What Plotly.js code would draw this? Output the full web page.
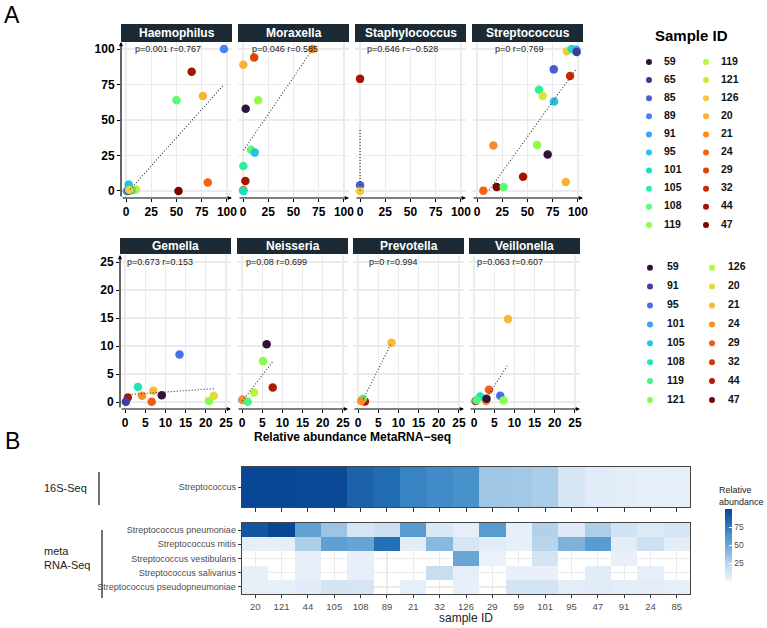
<!DOCTYPE html>
<html><head><meta charset="utf-8">
<script src="https://cdn.plot.ly/plotly-3.0.1.min.js"></script>
<style>html,body{margin:0;padding:0;background:#fff}#chart{width:767px;height:628px}</style>
</head><body><div id="chart"></div>
<script>
// ---------------- DATA ----------------
const legend1IDs = ['59','65','85','89','91','95','101','105','108','119','119','121','126','20','21','24','29','32','44','47'];
const legend2IDs = ['59','91','95','101','105','108','119','121','126','20','21','24','29','32','44','47'];

const topGenera = ['Haemophilus','Moraxella','Staphylococcus','Streptococcus'];
const botGenera = ['Gemella','Neisseria','Prevotella','Veillonella'];
const topStats = ['p=0.001 r=0.767','p=0.046 r=0.585','p=0.646 r=\u22120.528','p=0 r=0.769'];
const botStats = ['p=0.673 r=0.153','p=0.08 r=0.699','p=0 r=0.994','p=0.063 r=0.607'];

const haemophilusX = [97, 65, 50, 76, 81, 52, 2.6, 0.7, 9.9, 6, 2.6, 3];
const haemophilusY = [100, 84, 64, 67, 6, 0, 4.5, 0, 1, 0.5, 0.3, 0.6];
const haemophilusID = ['89','44','108','20','24','47','95','91','121','105','59','126'];
const haemophilusFitX = [4, 97];
const haemophilusFitY = [1, 75];

const moraxellaX = [69, 0.3, 11, 15, 2.6, 7.9, 11.6, 0.3, 2.3, 0.3, 0.3];
const moraxellaY = [100, 89, 94, 64, 58, 29, 27, 17.5, 7, 0.6, 0];
const moraxellaID = ['21','20','29','119','59','108','95','105','44','24','101'];
const moraxellaFitX = [0.5, 69];
const moraxellaFitY = [28.6, 100];

const staphylococcusX = [0, 0, 0];
const staphylococcusY = [79, 4, 0];
const staphylococcusID = ['44','85','126'];
const staphylococcusFitX = [0, 0];
const staphylococcusFitY = [0, 43];

const streptococcusX = [88.9, 93.8, 98.4, 98.7, 76, 92.2, 61.4, 65.1, 76.3, 16.2, 59.5, 70, 45.6, 87.9, 19.5, 26.4, 6.3];
const streptococcusY = [98.4, 100, 99.5, 98, 85.7, 81, 71.4, 67, 63, 32, 32.4, 25.6, 10, 6.3, 2.8, 2.8, 0.2];
const streptococcusID = ['126','101','91','65','85','32','105','121','95','21','119','59','44','20','47','108','24'];
const streptococcusFitX = [11.9, 98.7];
const streptococcusFitY = [0.5, 86.4];

const gemellaX = [13.5, 3.2, 7.0, 4.2, 9.1, 0.7, 0.2, 6.6, 20.8, 22.0];
const gemellaY = [8.5, 2.7, 2.0, 1.1, 1.2, 0.8, 0.05, 0.05, 0.2, 1.1];
const gemellaID = ['95','108','21','24','59','44','91','29','121','20'];
const gemellaFitX = [0.2, 22.3];
const gemellaFitY = [1.3, 2.4];

const neisseriaX = [6.1, 5.2, 7.6, 3.0, 0.1, 0.1, 1.4];
const neisseriaY = [10.3, 7.3, 2.6, 1.7, 0.4, 0.4, 0.05];
const neisseriaID = ['59','121','44','126','101','24','119'];
const neisseriaFitX = [0.1, 7.6];
const neisseriaFitY = [0.2, 7.2];

const prevotellaX = [8.3, 1.3, 1.7, 1.2, 0.8];
const prevotellaY = [10.6, 0.2, 0.1, 0.6, 0.2];
const prevotellaID = ['21','59','44','119','24'];
const prevotellaFitX = [1.3, 8.3];
const prevotellaFitY = [0.5, 10.6];

const veillonellaX = [8.4, 3.7, 1.5, 6.5, 7.3, 0.4, 0.6, 3.0, 3.1];
const veillonellaY = [14.8, 2.2, 1.0, 1.1, 0.25, 0.2, 0.3, 0.2, 0.6];
const veillonellaID = ['21','29','108','95','121','44','119','24','59'];
const veillonellaFitX = [2.5, 8.5];
const veillonellaFitY = [0, 6.8];

// heatmap data
const sampleOrder = ['20','121','44','105','108','89','21','32','126','29','59','101','95','47','91','24','85'];
const sixteenSLabel = ['Streptococcus'];
const sixteenS = [99, 99, 98, 98, 86, 82, 71, 67, 64, 33, 32, 30, 12, 7, 6, 5, 4];
const metaSpecies = ['Streptococcus pneumoniae','Streptococcus mitis','Streptococcus vestibularis','Streptococcus salivarius','Streptococcus pseudopneumoniae'];
const pneumoniae  = [92, 99, 54, 34, 13, 17, 57, 11, 5, 58, 4, 27, 9, 29, 15, 10, 13];
const mitis       = [5, 5, 29, 55, 52, 80, 6, 41, 12, 7, 4, 25, 44, 57, 6, 16, 6];
const vestibularis= [null, null, 4, null, 3, null, null, null, 51, 2, null, 14, null, null, 3, null, null];
const salivarius  = [4, null, 3, null, 5, null, null, 19, 5, null, 3, 3, null, 7, null, 5, null];
const pseudopneumoniae = [4, 4, 7, 14, 13, null, 5, null, 4, null, 14, 14, 6, 8, 6, 6, 5];
const colorbarTicks = [25, 50, 75];

// ---------------- STYLE ----------------
const W = 767, H = 628;
const FONT = 'Liberation Sans, Arial, sans-serif';
const px = v => v / W, py = v => 1 - v / H;

const turbo20 = ['#30123B','#3F3994','#455ED2','#4681F7','#3AA2FC','#23C3E4','#18DEC1','#2CF09E','#5BFB72','#8EFF49','#B5F836','#D6E635','#EFCD3A','#FCB036','#FD8A26','#F36215','#E14209','#C82803','#A51301','#7A0403'];
const turbo16 = ['#30123B','#4040A2','#4670E5','#3C9BFB','#22C5E2','#1FE4B5','#48F783','#87FE4E','#B9F636','#E0DC37','#F8BA37','#FD8D27','#EF5C13','#D53506','#AE1902','#7A0403'];
const colorFor = (id, row) => row === 0 ? turbo20[legend1IDs.indexOf(id)] : turbo16[legend2IDs.indexOf(id)];

const CS = [[0,'#EEF3FB'],[0.1,'#DCE9F6'],[0.25,'#B9D5EC'],[0.5,'#6BA7D6'],[0.65,'#4690CB'],[0.8,'#2470B5'],[1,'#084594']];

const topCols = [[121,232],[238,349],[355,466],[472,583]];
const botCols = [[120,231],[237,348],[353,464],[469,580]];
const rowGeo = [
  {strip:[24,42], plot:[42,198], range:[-5,105], ticks:[0,25,50,75,100], statY:49, statX:[133,250,365,493]},
  {strip:[238,254], plot:[255,409], range:[-1.25,26.25], ticks:[0,5,10,15,20,25], statY:262, statX:[125,244,367,475]}
];

const panels = [
  {x:haemophilusX, y:haemophilusY, id:haemophilusID, fx:haemophilusFitX, fy:haemophilusFitY},
  {x:moraxellaX, y:moraxellaY, id:moraxellaID, fx:moraxellaFitX, fy:moraxellaFitY},
  {x:staphylococcusX, y:staphylococcusY, id:staphylococcusID, fx:staphylococcusFitX, fy:staphylococcusFitY},
  {x:streptococcusX, y:streptococcusY, id:streptococcusID, fx:streptococcusFitX, fy:streptococcusFitY},
  {x:gemellaX, y:gemellaY, id:gemellaID, fx:gemellaFitX, fy:gemellaFitY},
  {x:neisseriaX, y:neisseriaY, id:neisseriaID, fx:neisseriaFitX, fy:neisseriaFitY},
  {x:prevotellaX, y:prevotellaY, id:prevotellaID, fx:prevotellaFitX, fy:prevotellaFitY},
  {x:veillonellaX, y:veillonellaY, id:veillonellaID, fx:veillonellaFitX, fy:veillonellaFitY}
];

const traces = [];
const annotations = [];
const shapes = [];
const layout = {
  width: W, height: H, margin:{l:0,r:0,t:0,b:0,pad:0},
  paper_bgcolor:'#fff', plot_bgcolor:'#fff', showlegend:false,
  font:{family:FONT, color:'#000'}, hovermode:false
};

panels.forEach((p, i) => {
  const n = i + 1, row = i < 4 ? 0 : 1, col = i % 4;
  const g = rowGeo[row];
  const c = (row ? botCols : topCols)[col];
  const xn = n === 1 ? 'x' : 'x' + n, yn = n === 1 ? 'y' : 'y' + n;
  const xk = n === 1 ? 'xaxis' : 'xaxis' + n, yk = n === 1 ? 'yaxis' : 'yaxis' + n;
  traces.push({type:'scatter', mode:'markers', x:p.x, y:p.y, xaxis:xn, yaxis:yn, cliponaxis:false,
    marker:{size:8.5, color:p.id.map(s => colorFor(s,row)), line:{width:0}}});
  traces.push({type:'scatter', mode:'lines', x:p.fx, y:p.fy, xaxis:xn, yaxis:yn,
    line:{color:'#333', width:1.1, dash:'1px,2px'}});
  const tickfont = {family:FONT, size:12, color:'#000', weight:'bold'};
  layout[xk] = {domain:[px(c[0]), px(c[1])], anchor:yn, range:g.range, tickvals:g.ticks,
    showgrid:true, gridcolor:'#EBEBEB', gridwidth:1.4, zeroline:false, showline:false,
    ticks:'outside', ticklen:3, tickwidth:1, tickcolor:'#000', tickfont, fixedrange:true};
  layout[yk] = {domain:[py(g.plot[1]), py(g.plot[0])], anchor:xn, range:g.range, tickvals:g.ticks,
    showgrid:true, gridcolor:'#EBEBEB', gridwidth:1.4, zeroline:false, showline:false,
    ticks: col === 0 ? 'outside' : '', ticklen:3, tickwidth:1, tickcolor:'#000',
    showticklabels: col === 0, tickfont, fixedrange:true};
  // strip
  shapes.push({type:'rect', xref:'paper', yref:'paper', x0:px(c[0]), x1:px(c[1]), y0:py(g.strip[1]), y1:py(g.strip[0]),
    fillcolor:'#1C2A35', line:{width:0}});
  annotations.push({xref:'paper', yref:'paper', x:px((c[0]+c[1])/2), y:py((g.strip[0]+g.strip[1])/2),
    text:(row ? botGenera : topGenera)[col], showarrow:false, font:{family:FONT, size:12, color:'#fff', weight:'bold'},
    xanchor:'center', yanchor:'middle'});
  // stats
  annotations.push({xref:'paper', yref:'paper', x:px(g.statX[col]), y:py(g.statY),
    text:(row ? botStats : topStats)[col], showarrow:false, font:{family:FONT, size:9, color:'#222'},
    xanchor:'left', yanchor:'middle'});
  // x axis arrow
  annotations.push({xref:'paper', yref:'paper', x:px(c[1]), y:py(g.plot[1]), ax:-(c[1]-c[0]), ay:0,
    text:'', showarrow:true, arrowhead:2, arrowsize:0.7, arrowwidth:1.2, arrowcolor:'#000', standoff:0, startstandoff:0});
  if (col === 0) {
    annotations.push({xref:'paper', yref:'paper', x:px(c[0]), y:py(g.plot[0]), ax:0, ay:(g.plot[1]-g.plot[0]),
      text:'', showarrow:true, arrowhead:2, arrowsize:0.7, arrowwidth:1.2, arrowcolor:'#000', standoff:0, startstandoff:0});
  }
});

// big letters and titles
annotations.push({xref:'paper', yref:'paper', x:px(12), y:py(15), text:'A', showarrow:false, font:{family:FONT, size:23, color:'#000'}, xanchor:'center', yanchor:'middle'});
annotations.push({xref:'paper', yref:'paper', x:px(12), y:py(441), text:'B', showarrow:false, font:{family:FONT, size:23, color:'#000'}, xanchor:'center', yanchor:'middle'});
annotations.push({xref:'paper', yref:'paper', x:px(352), y:py(437), text:'Relative abundance MetaRNA\u2212seq', showarrow:false, font:{family:FONT, size:12, color:'#000', weight:'bold'}, xanchor:'center', yanchor:'middle'});
annotations.push({xref:'paper', yref:'paper', x:px(691), y:py(36), text:'Sample ID', showarrow:false, font:{family:FONT, size:15, color:'#000', weight:'bold'}, xanchor:'center', yanchor:'middle'});

// legends drawn as scatter on a pixel-mapped hidden axis
const legX = [], legY = [], legC = [], legTX = [], legT = [];
legend1IDs.forEach((id, k) => {
  const col = Math.floor(k / 10), r = k % 10;
  legX.push([649,706][col]); legY.push(62 + r*18.1); legC.push(turbo20[k]);
  legTX.push([667,724][col] - 3); legT.push(id);
});
legend2IDs.forEach((id, k) => {
  const col = Math.floor(k / 8), r = k % 8;
  legX.push([650,712][col]); legY.push(267.7 + r*18.9); legC.push(turbo16[k]);
  legTX.push([670,731][col] - 3); legT.push(id);
});
traces.push({type:'scatter', mode:'markers', x:legX, y:legY, xaxis:'x12', yaxis:'y12', cliponaxis:false,
  marker:{size:6, color:legC}});
traces.push({type:'scatter', mode:'text', x:legTX, y:legY, text:legT, xaxis:'x12', yaxis:'y12', cliponaxis:false,
  textposition:'middle right', textfont:{family:FONT, size:10.5, color:'#111', weight:'bold'}});
layout.xaxis12 = {domain:[px(600), 1], anchor:'y12', range:[600, 767], visible:false, fixedrange:true};
layout.yaxis12 = {domain:[py(420), py(40)], anchor:'x12', range:[420, 40], visible:false, fixedrange:true};

// heatmaps
const SMALL = {family:FONT, size:9, color:'#4d4d4d'};
traces.push({type:'heatmap', x:sampleOrder, y:sixteenSLabel, z:[sixteenS], xaxis:'x10', yaxis:'y10',
  colorscale:CS, zmin:0, zmax:100, showscale:false});
traces.push({type:'heatmap', x:sampleOrder, y:metaSpecies, z:[pneumoniae, mitis, vestibularis, salivarius, pseudopneumoniae],
  xaxis:'x11', yaxis:'y11', colorscale:CS, zmin:0, zmax:100, showscale:true,
  colorbar:{x:px(725), xanchor:'left', y:py(509), yanchor:'top', len:72, lenmode:'pixels', thickness:7, thicknessmode:'pixels',
    outlinewidth:0, tickvals:colorbarTicks, ticks:'inside', ticklen:3, tickcolor:'#fff',
    tickfont:{family:FONT, size:8.5, color:'#4d4d4d'}, xpad:0, ypad:0, title:{text:''}}});

const hmX = [242, 690];
layout.xaxis10 = {domain:[px(hmX[0]), px(hmX[1])], anchor:'y10', type:'category', categoryorder:'array', categoryarray:sampleOrder,
  showticklabels:false, ticks:'outside', ticklen:4, tickcolor:'#333', showline:true, mirror:true, linecolor:'#444', linewidth:1.3,
  showgrid:false, zeroline:false, fixedrange:true};
layout.yaxis10 = {domain:[py(507), py(467)], anchor:'x10', type:'category', ticks:'outside', ticklen:3, tickcolor:'#333',
  tickfont:SMALL, showline:true, mirror:true, linecolor:'#444', linewidth:1.3,
  showgrid:false, zeroline:false, fixedrange:true};
layout.xaxis11 = {domain:[px(hmX[0]), px(hmX[1])], anchor:'y11', type:'category', categoryorder:'array', categoryarray:sampleOrder,
  ticks:'outside', ticklen:3, tickcolor:'#333', tickfont:{family:FONT, size:9.5, color:'#4d4d4d'},
  showline:true, mirror:true, linecolor:'#444', linewidth:1.3, showgrid:true, gridcolor:'#EBEBEB', gridwidth:1.2, zeroline:false, fixedrange:true};
layout.yaxis11 = {domain:[py(594), py(523)], anchor:'x11', type:'category', categoryorder:'array', categoryarray:metaSpecies,
  autorange:'reversed', ticks:'outside', ticklen:3, tickcolor:'#333', tickfont:SMALL,
  showline:true, mirror:true, linecolor:'#444', linewidth:1.3, showgrid:true, gridcolor:'#EBEBEB', gridwidth:1.2, zeroline:false, fixedrange:true};

annotations.push({xref:'paper', yref:'paper', x:px(466), y:py(618), text:'sample ID', showarrow:false, font:{family:FONT, size:12, color:'#222'}, xanchor:'center', yanchor:'middle'});
annotations.push({xref:'paper', yref:'paper', x:px(765), y:py(496), text:'Relative<br>abundance', showarrow:false, align:'left', borderpad:0, font:{family:FONT, size:9, color:'#222'}, xanchor:'right', yanchor:'middle'});
annotations.push({xref:'paper', yref:'paper', x:px(42), y:py(488), text:'16S-Seq', showarrow:false, font:{family:FONT, size:11, color:'#222'}, xanchor:'left', yanchor:'middle'});
annotations.push({xref:'paper', yref:'paper', x:px(42), y:py(558), text:'meta<br>RNA-Seq', showarrow:false, align:'left', font:{family:FONT, size:11, color:'#222'}, xanchor:'left', yanchor:'middle'});
shapes.push({type:'line', xref:'paper', yref:'paper', x0:px(99), x1:px(99), y0:py(472), y1:py(505), line:{color:'#444', width:1.5}});
shapes.push({type:'line', xref:'paper', yref:'paper', x0:px(102), x1:px(102), y0:py(530), y1:py(598), line:{color:'#444', width:1.5}});

layout.annotations = annotations;
layout.shapes = shapes;
Plotly.newPlot('chart', traces, layout, {displayModeBar:false, staticPlot:true});
</script></body></html>
